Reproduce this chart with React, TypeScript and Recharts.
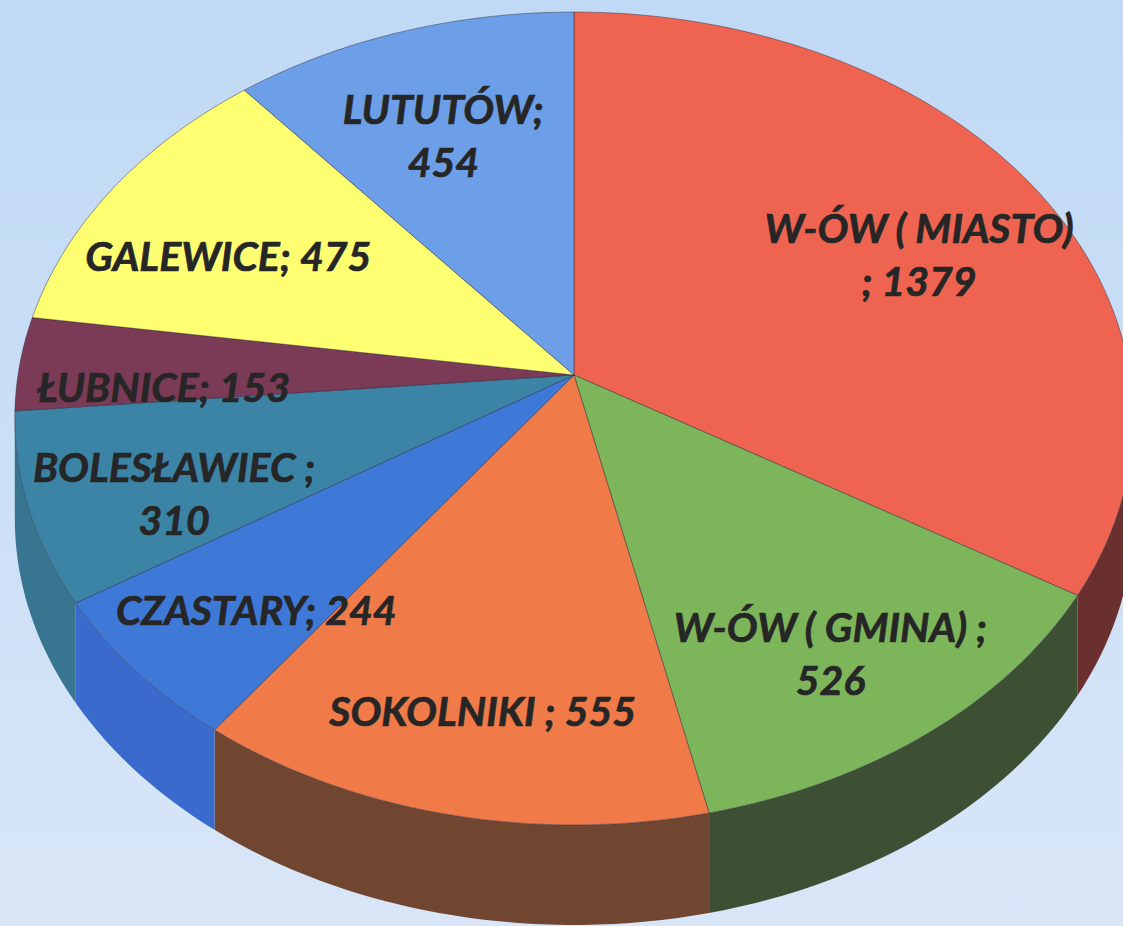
import React from "react";
import { PieChart, Pie } from "recharts";

// gminy i liczby z wykresu
const gminy = ["W-ÓW ( MIASTO) ", "W-ÓW ( GMINA) ", "SOKOLNIKI ", "CZASTARY", "BOLESŁAWIEC ", "ŁUBNICE", "GALEWICE", "LUTUTÓW"];
const wartosci = [1379, 526, 555, 244, 310, 153, 475, 454];
// how each label is wrapped: "przed" = break before ";", "po" = break after ";", "" = one line
const lamanie = ["przed", "po", "", "", "po", "", "", "po"];

const data = gminy.map((name, i) => ({ name, value: wartosci[i] }));

const KOLORY = ["#ee6450", "#7db65a", "#f07a48", "#3e79d8", "#3c84a6", "#7b3a56", "#ffff72", "#6c9fe7"];
const SCIANY = ["#6a3030", "#3d5034", "#704630", "#3a6acb", "#377591", "#5a2a40", "#b0b050", "#4f7fcf"];

const W = 1123;
const H = 926;
const CX = 574;
const CY = 375;
const R = 556;
const TILT = 0.7227; // vertical squash of the top face
const PERSP = 0.107; // near side drawn bigger than far side
const GLEB = 100; // thickness of the pie
const LABEL_R = 0.74;

const rad = (deg: number) => (deg * Math.PI) / 180;

// point on the (tilted, perspective) disk; phi clockwise from 12 o'clock
const rzut = (cx: number, cy: number, r: number, phi: number, f: number) => {
  const u = f * Math.sin(phi);
  const v = -f * Math.cos(phi);
  const d = 1 - PERSP * v;
  return [cx + (r * u) / d, cy + (r * TILT * v) / d];
};

const luk = (cx: number, cy: number, r: number, a0: number, a1: number) => {
  const pts: number[][] = [];
  const n = Math.max(6, Math.ceil(Math.abs(a1 - a0) / 1.5));
  for (let k = 0; k <= n; k++) {
    pts.push(rzut(cx, cy, r, rad(a0 + ((a1 - a0) * k) / n), 1));
  }
  return pts;
};

const SIL = (Math.acos(-PERSP) * 180) / Math.PI; // where the side wall shows

const Sciana = (p: any) => {
  const { cx, cy, outerRadius, startAngle, endAngle, index } = p;
  const a0 = Math.max(90 - startAngle, SIL);
  const a1 = Math.min(90 - endAngle, 360 - SIL);
  if (a1 <= a0) return <g />;
  const pts = luk(cx, cy, outerRadius, a0, a1);
  const gora = pts.map(([x, y]) => `${x},${y}`).join(" L ");
  const dol = pts
    .slice()
    .reverse()
    .map(([x, y]) => `${x},${y + GLEB}`)
    .join(" L ");
  return <path d={`M ${gora} L ${dol} Z`} fill={SCIANY[index]} />;
};

const Wierzch = (p: any) => {
  const { cx, cy, outerRadius, startAngle, endAngle, index } = p;
  const pts = luk(cx, cy, outerRadius, 90 - startAngle, 90 - endAngle);
  const d = `M ${cx},${cy} L ` + pts.map(([x, y]) => `${x},${y}`).join(" L ") + " Z";
  return <path d={d} fill={KOLORY[index]} stroke="rgba(40,40,60,0.45)" strokeWidth={1} strokeLinejoin="round" />;
};

const Etykieta = (p: any) => {
  const { cx, cy, outerRadius, midAngle, index, name, value } = p;
  const [x, y0] = rzut(cx, cy, outerRadius, rad(90 - midAngle), LABEL_R);
  const y = y0 + 20;
  let linie: string[];
  if (lamanie[index] === "przed") linie = [name.trim(), `; ${value}`];
  else if (lamanie[index] === "po") linie = [`${name};`, `${value}`];
  else linie = [`${name}; ${value}`];
  const krok = 53;
  return (
    <text
      x={x}
      y={y}
      textAnchor="middle"
      fill="#262626"
      stroke="#262626"
      strokeWidth={0.7}
      fontFamily="Lato, 'Open Sans', sans-serif"
      fontWeight={700}
      fontStyle="italic"
      fontSize={41}
      style={{ whiteSpace: "pre" }}
    >
      {linie.map((t, i) => (
        <tspan key={i} x={x} y={y + (i - (linie.length - 1) / 2) * krok} dominantBaseline="central">
          {t}
        </tspan>
      ))}
    </text>
  );
};

export default function App() {
  const wspolne = {
    data,
    dataKey: "value",
    nameKey: "name",
    cx: CX,
    cy: CY,
    outerRadius: R,
    startAngle: 90,
    endAngle: -270,
    fill: "none",
    stroke: "none",
    labelLine: false,
    isAnimationActive: false,
  };
  return (
    <div
      style={{
        position: "absolute",
        left: 0,
        top: 0,
        width: W,
        height: H,
        overflow: "hidden",
        background: "linear-gradient(180deg, #c0d9f4 0%, #cbdff6 50%, #d9e6f8 100%)",
      }}
    >
      <PieChart width={W} height={H} margin={{ top: 0, right: 0, bottom: 0, left: 0 }}>
        <Pie {...wspolne} label={Sciana} />
        <Pie {...wspolne} label={Wierzch} />
        <Pie {...wspolne} label={Etykieta} />
      </PieChart>
    </div>
  );
}
